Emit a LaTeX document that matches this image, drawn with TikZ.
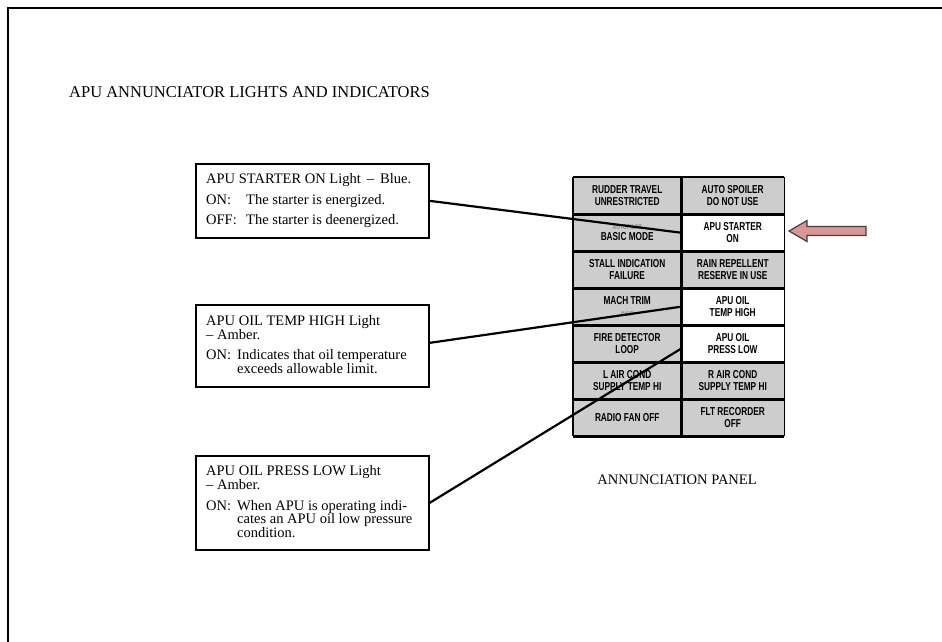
\documentclass[tikz,border=0pt]{standalone}
\usepackage{fontspec}
\setmainfont{Liberation Serif}
\newfontfamily\panelfont[FakeStretch=0.72]{Liberation Sans}
\usetikzlibrary{calc}
\definecolor{arrowpink}{RGB}{217,150,148}
\definecolor{cellgray}{RGB}{205,205,205}
\begin{document}
\begin{tikzpicture}[x=1pt,y=-1pt,
  infobox/.style={draw=black, line width=1.7pt, minimum width=233pt, anchor=north west, inner sep=0pt},
  txt/.style={anchor=base west, inner sep=0pt, font=\fontsize{14.5}{16}\selectfont},
  cell/.style={anchor=north west, inner sep=0pt, minimum height=37pt, align=center,
    font=\panelfont\bfseries\fontsize{11.5}{11.5}\selectfont},
  lcell/.style={cell, fill=cellgray, minimum width=108pt},
  rcell/.style={cell, fill=cellgray, minimum width=103pt},
  wcell/.style={cell, fill=white, minimum width=103pt},
  sep/.style={line width=2.2pt, black},
  lead/.style={line width=2.2pt, black}
]
\useasboundingbox (0,0) rectangle (942,642);
% frame
\draw[line width=1.6pt] (8,642) -- (8,8) -- (942,8);

% title
\node[anchor=base west, inner sep=0pt, font=\fontsize{16.5}{18}\selectfont] (title) at (69,97)
  {APU ANNUNCIATOR LIGHTS AND INDICATORS};

% info boxes
\node[infobox, minimum height=74pt] (b1) at (195,163) {};
\node[infobox, minimum height=82pt] (b2) at (195,304) {};
\node[infobox, minimum height=94pt] (b3) at (195,455) {};

\node[txt] (b1a) at (206,183) {APU STARTER ON Light \,–\, Blue.};
\node[txt] (b1b) at (206,204) {ON:};
\node[txt] (b1c) at (246,204) {The starter is energized.};
\node[txt] (b1d) at (206,224) {OFF:};
\node[txt] (b1e) at (246,224) {The starter is deenergized.};

\node[txt] (b2a) at (206,325) {APU OIL TEMP HIGH Light};
\node[txt] (b2b) at (206,339) {– Amber.};
\node[txt] (b2c) at (206,359) {ON:};
\node[txt] (b2d) at (237,359) {Indicates that oil temperature};
\node[txt] (b2e) at (237,373) {exceeds allowable limit.};

\node[txt] (b3a) at (206,475) {APU OIL PRESS LOW Light};
\node[txt] (b3b) at (206,489) {– Amber.};
\node[txt] (b3c) at (206,510) {ON:};
\node[txt] (b3d) at (237,510) {When APU is operating indi-};
\node[txt] (b3e) at (237,523.5) {cates an APU oil low pressure};
\node[txt] (b3f) at (237,537) {condition.};

% annunciator panel cells
\node[lcell] (L1) at (573,177) {RUDDER TRAVEL\\UNRESTRICTED};
\node[rcell] (R1) at (681,177) {AUTO SPOILER\\DO NOT USE};
\node[lcell] (L2) at (573,214) {{\color{black!45}\fontsize{7}{7}\selectfont AUTOPILOT}\\BASIC MODE};
\node[wcell] (R2) at (681,214) {APU STARTER\\ON};
\node[lcell] (L3) at (573,251) {STALL INDICATION\\FAILURE};
\node[rcell] (R3) at (681,251) {RAIN REPELLENT\\RESERVE IN USE};
\node[lcell] (L4) at (573,288) {MACH TRIM\\{\color{black!45}\fontsize{7}{7}\selectfont INOP}};
\node[wcell] (R4) at (681,288) {APU OIL\\TEMP HIGH};
\node[lcell] (L5) at (573,325) {FIRE DETECTOR\\LOOP};
\node[wcell] (R5) at (681,325) {APU OIL\\PRESS LOW};
\node[lcell] (L6) at (573,362) {L AIR COND\\SUPPLY TEMP HI};
\node[rcell] (R6) at (681,362) {R AIR COND\\SUPPLY TEMP HI};
\node[lcell] (L7) at (573,399) {RADIO FAN OFF};
\node[rcell] (R7) at (681,399) {FLT RECORDER\\OFF};

% grid
\draw[sep] (L1.north west) -- (R1.north east);
\foreach \r in {1,...,7}{
  \draw[sep] (L\r.south west) -- (R\r.south east);
}
\draw[line width=1.2pt] (L1.north west) -- (L7.south west);
\draw[line width=1.8pt] (R1.north east) -- (R7.south east);
\draw[line width=3pt] (R1.north west) -- (R7.south west);

% leader lines
\draw[lead] (b1.east) -- (R2.west);
\draw[lead] ([yshift=3pt]b2.east) -- (R4.west);
\draw[lead] (b3.east) -- ([yshift=-5pt]R5.west);

% pointer arrow
\draw[fill=arrowpink, draw=black!75, line width=1.2pt, line join=miter]
  (789,231) -- (807,220.5) -- (807,226.5) -- (866,226.5) -- (866,235.5)
  -- (807,235.5) -- (807,241.5) -- cycle;

% panel caption
\node[anchor=base, inner sep=0pt, font=\fontsize{14.5}{16}\selectfont] (cap) at (677,484)
  {ANNUNCIATION PANEL};
\end{tikzpicture}
\end{document}
